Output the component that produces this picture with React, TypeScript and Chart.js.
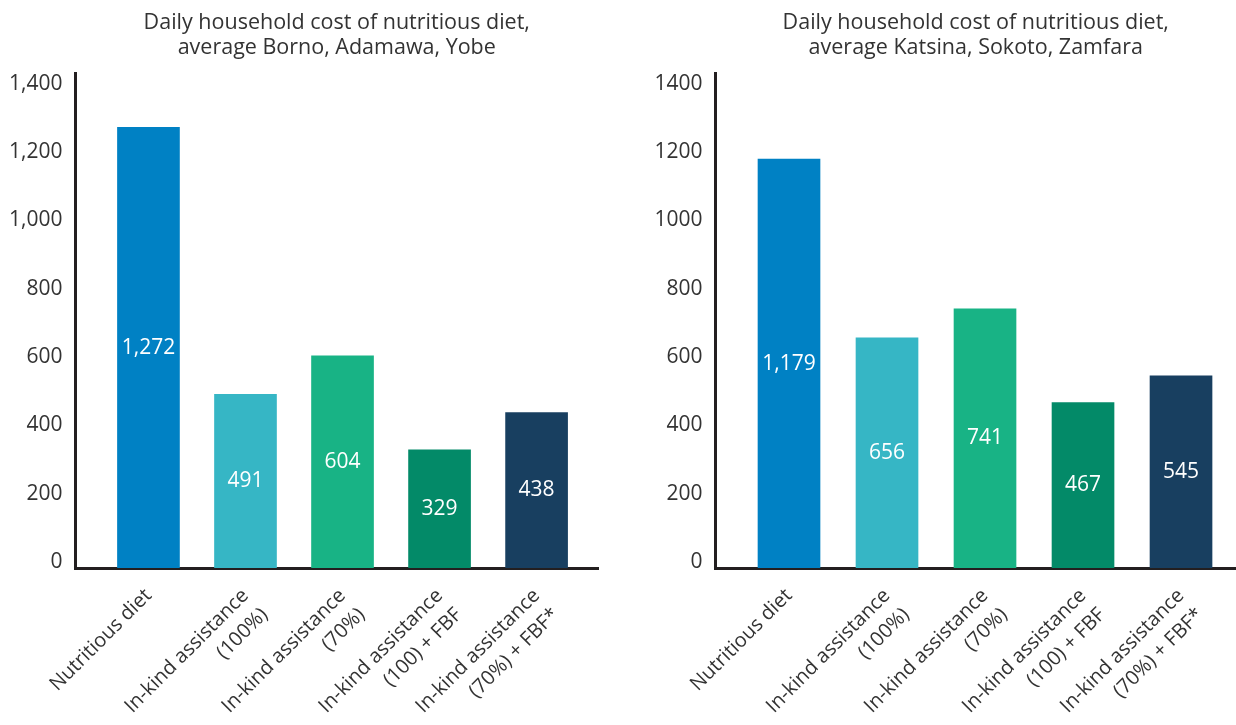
import React, { useEffect, useRef } from "react";
import { Chart, registerables } from "chart.js";

Chart.register(...registerables);

// ---- Data ----
const categories: string[][] = [
  ["Nutritious diet"],
  ["In-kind assistance", "(100%)"],
  ["In-kind assistance", "(70%)"],
  ["In-kind assistance", "(100) + FBF"],
  ["In-kind assistance", "(70%) + FBF*"],
];
const barColors = ["#0081C4", "#36B6C5", "#18B385", "#038A68", "#183F60"];
const northEastValues = [1272, 491, 604, 329, 438];
const northWestValues = [1179, 656, 741, 467, 545];
const yTickValues = [0, 200, 400, 600, 800, 1000, 1200, 1400];
const leftTitle = ["Daily household cost of nutritious diet,", "average Borno, Adamawa, Yobe"];
const rightTitle = ["Daily household cost of nutritious diet,", "average Katsina, Sokoto, Zamfara"];

const FONT = '"Open Sans", "Noto Sans", sans-serif';
const TEXT = "#333333";
const AXIS = "#231f20";

const valueLabelPlugin = {
  id: "valueLabels",
  afterDatasetsDraw(chart: any) {
    const ctx = chart.ctx;
    const meta = chart.getDatasetMeta(0);
    const ds = chart.data.datasets[0];
    ctx.save();
    ctx.fillStyle = "#ffffff";
    ctx.font = `21px ${FONT}`;
    ctx.textAlign = "center";
    ctx.textBaseline = "middle";
    meta.data.forEach((bar: any, i: number) => {
      const v = ds.data[i].y as number;
      const { x, y, base } = bar.getProps(["x", "y", "base"], true);
      ctx.fillText(v.toLocaleString("en-US"), x, (y + base) / 2);
    });
    ctx.restore();
  },
};

type Cfg = {
  values: number[];
  title: string[];
  comma: boolean;
  yWidth: number;
  padRight: number;
  xMin: number;
  xMax: number;
};

function BarPanel({ cfg }: { cfg: Cfg }) {
  const ref = useRef<HTMLCanvasElement | null>(null);
  useEffect(() => {
    if (!ref.current) return;
    const chart = new Chart(ref.current, {
      type: "bar",
      data: {
        datasets: [
          {
            data: cfg.values.map((v, i) => ({ x: i, y: v })),
            backgroundColor: barColors,
            barThickness: 62,
            base: -17,
          } as any,
        ],
      },
      options: {
        animation: false,
        responsive: false,
        layout: { padding: { left: 0, right: cfg.padRight, top: 0, bottom: 0 } },
        plugins: {
          legend: { display: false },
          tooltip: { enabled: false },
          title: {
            display: true,
            text: cfg.title,
            fullSize: false,
            color: TEXT,
            font: { family: FONT, size: 21.5, weight: "normal", lineHeight: 1.2 },
            padding: { top: 9.5, bottom: 11.9 },
          },
        },
        scales: {
          x: {
            type: "linear",
            offset: false,
            min: cfg.xMin,
            max: cfg.xMax,
            bounds: "data",
            afterBuildTicks: (axis: any) => {
              axis.ticks = categories.map((_, i) => ({ value: i }));
            },
            afterFit: (scale: any) => {
              scale.height = 157;
            },
            grid: { display: false, drawTicks: false, offset: false },
            border: { display: true, width: 3, color: AXIS },
            ticks: {
              autoSkip: false,
              minRotation: 45,
              maxRotation: 45,
              padding: 15,
              labelOffset: 0,
              color: TEXT,
              font: { family: FONT, size: 20, lineHeight: 1.35 },
              callback: (v: any) => categories[Number(v)] ?? "",
            },
          },
          y: {
            type: "linear",
            min: -17,
            max: 1431,
            afterBuildTicks: (axis: any) => {
              axis.ticks = yTickValues.map((v) => ({ value: v }));
            },
            afterFit: (scale: any) => {
              scale.width = cfg.yWidth;
            },
            grid: { display: false, drawTicks: false },
            border: { display: true, width: 3, color: AXIS },
            ticks: {
              padding: 13,
              color: TEXT,
              font: { family: FONT, size: 21 },
              callback: (v: any) =>
                cfg.comma ? Number(v).toLocaleString("en-US") : String(v),
            },
          },
        },
      } as any,
      plugins: [valueLabelPlugin],
    });
    return () => chart.destroy();
  }, [cfg]);
  return <canvas ref={ref} width={618} height={725} style={{ display: "block" }} />;
}

const leftCfg: Cfg = {
  values: northEastValues,
  title: leftTitle,
  comma: true,
  yWidth: 75.5,
  padRight: 20,
  xMin: -0.752,
  xMax: 4.633,
};
const rightCfg: Cfg = {
  values: northWestValues,
  title: rightTitle,
  comma: false,
  yWidth: 97.5,
  padRight: 0,
  xMin: -0.75,
  xMax: 4.561,
};

export default function App() {
  return (
    <div
      style={{
        position: "fixed",
        left: 0,
        top: 0,
        width: 1236,
        height: 725,
        background: "#ffffff",
        display: "flex",
        overflow: "hidden",
      }}
    >
      <BarPanel cfg={leftCfg} />
      <BarPanel cfg={rightCfg} />
    </div>
  );
}
